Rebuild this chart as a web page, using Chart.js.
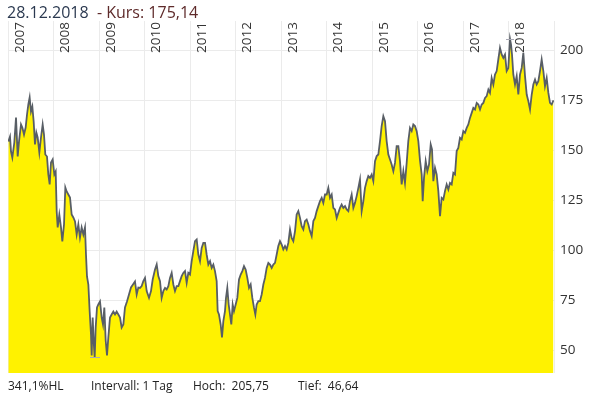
<!DOCTYPE html>
<html><head><meta charset="utf-8">
<script src="https://cdn.jsdelivr.net/npm/chart.js"></script>
<style>html,body{margin:0;padding:0;background:#fff}canvas{display:block}</style>
</head><body>
<canvas id="c" width="599" height="397"></canvas>
<script>
// ---- data ----
const years = [
2007.007,2007.044,2007.066,2007.095,2007.139,2007.176,2007.213,2007.242,2007.286,2007.315,
2007.352,2007.388,2007.418,2007.447,2007.476,2007.505,2007.535,2007.564,2007.593,2007.623,
2007.652,2007.689,2007.725,2007.762,2007.791,2007.820,2007.857,2007.886,2007.916,2007.945,
2007.982,2008.018,2008.048,2008.070,2008.092,2008.128,2008.165,2008.194,2008.231,2008.260,
2008.289,2008.326,2008.363,2008.399,2008.436,2008.473,2008.509,2008.546,2008.582,2008.619,
2008.656,2008.692,2008.714,2008.736,2008.766,2008.795,2008.824,2008.839,2008.861,2008.883,
2008.905,2008.927,2008.956,2008.985,2009.022,2009.059,2009.088,2009.117,2009.147,2009.176,
2009.205,2009.242,2009.278,2009.315,2009.352,2009.388,2009.425,2009.462,2009.498,2009.535,
2009.571,2009.615,2009.659,2009.703,2009.747,2009.791,2009.828,2009.864,2009.901,2009.938,
2009.974,2010.011,2010.048,2010.099,2010.143,2010.180,2010.231,2010.268,2010.304,2010.341,
2010.377,2010.414,2010.451,2010.487,2010.524,2010.560,2010.597,2010.634,2010.670,2010.707,
2010.744,2010.780,2010.817,2010.853,2010.890,2010.927,2010.963,2011.000,2011.037,2011.073,
2011.110,2011.147,2011.183,2011.220,2011.257,2011.293,2011.330,2011.366,2011.403,2011.440,
2011.476,2011.513,2011.549,2011.586,2011.608,2011.637,2011.674,2011.703,2011.733,2011.769,
2011.791,2011.820,2011.850,2011.879,2011.908,2011.938,2011.967,2012.004,2012.040,2012.077,
2012.114,2012.150,2012.187,2012.223,2012.260,2012.297,2012.333,2012.370,2012.407,2012.436,
2012.465,2012.502,2012.538,2012.575,2012.612,2012.648,2012.685,2012.722,2012.758,2012.795,
2012.831,2012.868,2012.905,2012.941,2012.978,2013.015,2013.051,2013.088,2013.125,2013.161,
2013.198,2013.234,2013.271,2013.308,2013.344,2013.381,2013.418,2013.454,2013.491,2013.527,
2013.564,2013.601,2013.637,2013.674,2013.711,2013.747,2013.784,2013.820,2013.857,2013.894,
2013.930,2013.967,2014.004,2014.040,2014.077,2014.114,2014.150,2014.187,2014.224,2014.260,
2014.297,2014.333,2014.370,2014.407,2014.443,2014.480,2014.516,2014.553,2014.590,2014.626,
2014.663,2014.700,2014.736,2014.773,2014.810,2014.846,2014.883,2014.919,2014.956,2014.993,
2015.029,2015.066,2015.103,2015.139,2015.176,2015.212,2015.249,2015.286,2015.322,2015.359,
2015.396,2015.432,2015.469,2015.505,2015.542,2015.579,2015.615,2015.652,2015.689,2015.725,
2015.762,2015.798,2015.835,2015.872,2015.908,2015.945,2015.982,2016.018,2016.055,2016.092,
2016.114,2016.143,2016.180,2016.216,2016.253,2016.290,2016.319,2016.348,2016.385,2016.421,
2016.458,2016.495,2016.531,2016.568,2016.604,2016.641,2016.678,2016.714,2016.751,2016.788,
2016.824,2016.861,2016.897,2016.934,2016.971,2017.007,2017.044,2017.081,2017.117,2017.154,
2017.191,2017.227,2017.264,2017.301,2017.337,2017.374,2017.411,2017.447,2017.484,2017.520,
2017.557,2017.593,2017.630,2017.667,2017.703,2017.740,2017.776,2017.813,2017.850,2017.886,
2017.923,2017.960,2017.996,2018.033,2018.055,2018.077,2018.106,2018.143,2018.180,2018.216,
2018.253,2018.290,2018.326,2018.363,2018.400,2018.436,2018.473,2018.510,2018.546,2018.583,
2018.619,2018.656,2018.692,2018.729,2018.766,2018.802,2018.839,2018.876,2018.912,2018.949,
2018.988
];
const prices = [
154.5,157,149.5,146.5,154,166.5,147,154.5,163,161.5,
158,161.5,168,173,176.5,169.5,172,164.5,153,159,
156.5,149,156.5,163,158,148,147,138,133,144,
145.5,138,139.5,119.5,111.5,118,111.5,104.5,113,131.5,
129.5,128,126.5,118,116.5,114.5,108,113,106.5,111.5,
108,111.5,98,87,83,69.5,58,47.5,66.5,54.5,
46.64,61.5,71.5,73,74.5,66.5,63,71.5,55,47.5,
56.5,66.5,68,69.5,68,69.5,68,66.5,61.5,63,
71.5,74.5,78,81.5,83,84.5,78,81.5,81.3,82.2,
84.7,86.3,79.7,76.3,79.7,85.5,90.5,93,87.2,84.7,
76.3,79.7,81.3,80.5,82.2,86.3,88.8,83,79.7,82.2,
82.2,84.7,87.2,88.8,89.7,83.8,88.8,88,94.7,99.7,
104.7,105.5,98,94.7,101.3,103.8,103.8,98,93,94.7,
91.3,93,89.7,84.7,69.7,68,63,56.5,64.7,69.7,
76.3,81.3,73,68,63,73,69.7,73,76.3,85.5,
88,89.7,92.2,90.5,86.3,81.3,83,76.3,71.3,68,
73,74.7,74.7,78,83,86.3,91.3,93.8,93,91.3,
93,93.8,98,102.2,104.7,103,100.5,102.2,100.5,103.8,
110.5,106.3,104.7,109.7,118,119.7,116.3,112.2,110.5,114.7,
115.5,113,109.7,107.2,114.7,116.3,119.7,122.2,124.7,126.3,
123.8,128,128,131.3,126.3,128,121.3,120.5,116.3,118.8,
121.3,123,121.3,122.2,120.5,119.7,124.7,128,121.3,123.8,
127.2,131.3,135.5,119.7,124.7,131.3,134.7,137.2,136.3,138,
134.7,144.7,147.2,148,154.7,162.2,167.2,164.7,154.7,148,
145.5,143,139.7,143.8,152.2,152.2,144.7,133,139.7,133.8,
143.8,154.7,161.3,159.7,163,162.2,159.7,154.7,145,138,
124.7,136.3,144.7,139.7,143,153,150.5,134.7,141.3,138,
129.7,117.2,126.3,125.5,129.7,133,130.5,133.8,133,138.8,
138,149.7,151.3,156.3,155.5,159.7,158.8,161.3,163,166.3,
168.8,171.3,170.5,173.8,173,170.5,173,173.8,176.3,177.2,
180.5,178.8,186.3,183,188,189.7,195.5,201.3,198,196.3,
198,189.7,191.2,205.75,203,198,188,183,187.2,178,
188,191.3,198.8,187.2,178,174.7,170.5,178,183,185.5,
183,184.7,189.7,195.5,189.7,182.2,186.3,178.8,173.8,173,
175.14
];
const yearTicks = [2007,2008,2009,2010,2011,2012,2013,2014,2015,2016,2017,2018,2019];
const yearLabels = ['2007','2008','2009','2010','2011','2012','2013','2014','2015','2016','2017','2018'];
const priceTicks = [50,75,100,125,150,175,200];
const titleDate = '28.12.2018';
const titleRest = '  - Kurs: 175,14';
const footerItems = ['341,1%HL','Intervall: 1 Tag','Hoch:  205,75','Tief:  46,64'];

const FONT = '"Open Sans", "DejaVu Sans", sans-serif';
const footerX = [8, 91, 193, 298];

const extras = {
  id: 'extras',
  afterDatasetsDraw(chart) {
    const ctx = chart.ctx, xs = chart.scales.x, ys = chart.scales.y;
    ctx.save();
    // high / low markers
    let hi = 0, lo = 0;
    prices.forEach((p, i) => { if (p > prices[hi]) hi = i; if (p < prices[lo]) lo = i; });
    ctx.strokeStyle = '#a8a8b4';
    ctx.lineWidth = 1;
    [[hi, 4], [lo, 5]].forEach(([i, half]) => {
      const px = Math.round(xs.getPixelForValue(years[i]));
      const py = Math.round(ys.getPixelForValue(prices[i])) + 0.5;
      ctx.beginPath(); ctx.moveTo(px - half, py); ctx.lineTo(px + half, py); ctx.stroke();
    });
    // year labels (rotated, inside the plot, right of each year line)
    ctx.fillStyle = '#333';
    ctx.font = '13.5px ' + FONT;
    ctx.textAlign = 'left';
    ctx.textBaseline = 'alphabetic';
    yearLabels.forEach((lab, i) => {
      const px = xs.getPixelForValue(yearTicks[i]);
      ctx.save();
      ctx.translate(px + 15.5, chart.chartArea.top + 32);
      ctx.rotate(-Math.PI / 2);
      ctx.fillText(lab, 0, 0);
      ctx.restore();
    });
    ctx.restore();
  },
  afterDraw(chart) {
    const ctx = chart.ctx;
    ctx.save();
    ctx.textBaseline = 'alphabetic';
    ctx.textAlign = 'left';
    ctx.font = '16px ' + FONT;
    ctx.fillStyle = '#2b3950';
    ctx.fillText(titleDate, 7, 18);
    const w = ctx.measureText(titleDate).width;
    ctx.fillStyle = '#5e2a2a';
    ctx.fillText(titleRest, 7 + w, 18);
    ctx.font = '12px ' + FONT;
    ctx.fillStyle = '#222';
    footerItems.forEach((t, i) => ctx.fillText(t, footerX[i], 389.5));
    ctx.restore();
  }
};

new Chart(document.getElementById('c'), {
  type: 'line',
  data: {
    datasets: [{
      data: years.map((x, i) => ({ x, y: prices[i] })),
      borderColor: '#585e65',
      borderWidth: 1.8,
      backgroundColor: '#fff200',
      fill: 'start',
      pointRadius: 0,
      tension: 0
    }]
  },
  options: {
    responsive: false,
    devicePixelRatio: 1,
    animation: false,
    parsing: false,
    layout: { padding: { left: 8, top: 21, bottom: 24, right: 0 } },
    plugins: { legend: { display: false }, tooltip: { enabled: false }, title: { display: false } },
    scales: {
      x: {
        type: 'linear', min: 2007, max: 2019,
        afterBuildTicks: s => { s.ticks = yearTicks.map(v => ({ value: v })); },
        afterFit: s => { s.height = 0; },
        ticks: { display: false },
        grid: { color: '#ebebeb', drawTicks: false },
        border: { display: false }
      },
      y: {
        position: 'right', min: 38.75, max: 214.75,
        afterBuildTicks: s => { s.ticks = priceTicks.map(v => ({ value: v })); },
        afterFit: s => { s.width = 45; },
        ticks: { color: '#333', padding: 6, font: { family: FONT, size: 13.5 } },
        grid: { color: '#ebebeb', drawTicks: false },
        border: { display: false }
      }
    }
  },
  plugins: [extras]
});
</script>
</body></html>
